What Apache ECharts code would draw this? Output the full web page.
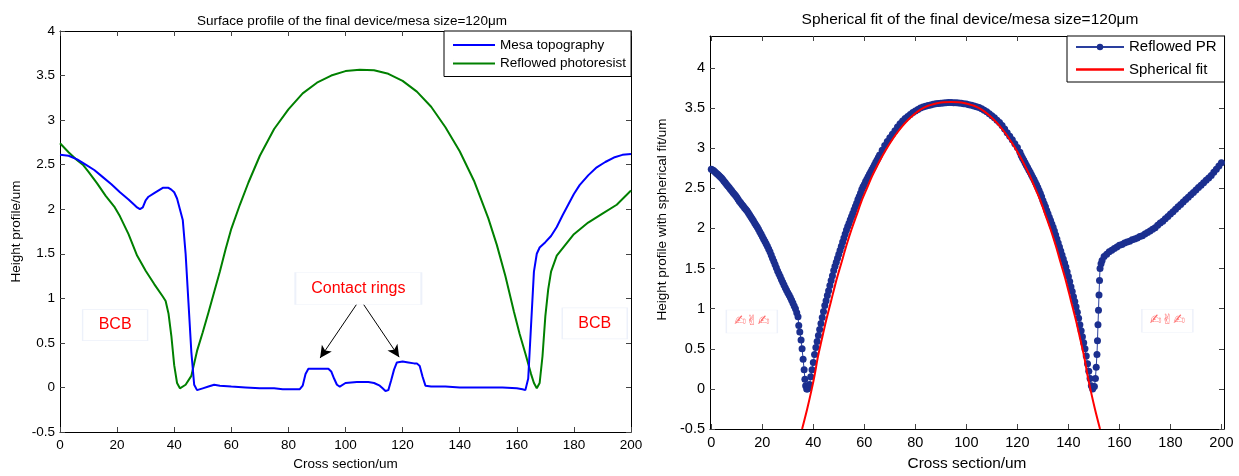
<!DOCTYPE html>
<html><head><meta charset="utf-8">
<script src="https://cdn.jsdelivr.net/npm/echarts@6/dist/echarts.min.js"></script>
<style>html,body{margin:0;padding:0;background:#fff}#c{width:1239px;height:476px}</style>
</head><body><div id="c"></div>
<script>
// ---------- tick labels ----------
const xTicks = [0,20,40,60,80,100,120,140,160,180,200];
const yTicks = [-0.5,0,0.5,1,1.5,2,2.5,3,3.5,4];

// ---------- Left chart: Surface profile ----------
const mesaX = [0,3,6,9,12,15,18,21,24,26,27,28,29,30,31,33,35,36,37,38,39,40,41,42,43,44,45,46,47,48,50,52,54,56,60,65,70,75,78,80,84,85,86,87,90,92,94,95,96,97,98,100,104,108,110,112,113,114,115,116,117,118,120,122,124,125,126,127,128,130,135,140,145,150,155,160,162,163,164,165,166,167,168,170,172,174,176,178,180,182,185,188,191,194,197,200];
const mesaY = [2.61,2.6,2.56,2.5,2.44,2.36,2.28,2.19,2.11,2.05,2.02,2.0,2.02,2.1,2.14,2.18,2.22,2.24,2.24,2.24,2.22,2.19,2.12,2.0,1.88,1.5,0.95,0.4,0.03,-0.03,-0.01,0.01,0.03,0.02,0.01,0.0,-0.01,-0.01,-0.02,-0.02,-0.02,0.02,0.15,0.21,0.21,0.21,0.21,0.18,0.1,0.03,0.01,0.05,0.06,0.06,0.05,0.02,-0.01,-0.04,-0.03,0.08,0.2,0.28,0.29,0.28,0.27,0.27,0.24,0.12,0.02,0.01,0.01,0.0,0.0,0.0,0.0,-0.01,-0.02,-0.03,0.1,0.7,1.3,1.5,1.57,1.63,1.7,1.8,1.93,2.05,2.17,2.27,2.38,2.47,2.53,2.58,2.61,2.62];
const prX = [0,3,6,8,10,13,16,19,21,24,27,30,33,36,37,38,39,40,41,42,44,46,48,50,52,54,56,58,60,63,66,70,75,80,85,90,95,100,105,110,115,120,125,130,135,140,145,150,153,156,159,161,163,165,166,167,168,169,170,171,172,174,177,180,185,190,195,200];
const prY = [2.74,2.64,2.55,2.5,2.42,2.29,2.15,2.03,1.92,1.72,1.48,1.31,1.16,1.02,0.97,0.83,0.58,0.25,0.05,-0.01,0.03,0.13,0.41,0.62,0.84,1.07,1.3,1.55,1.78,2.05,2.3,2.6,2.9,3.12,3.3,3.42,3.5,3.55,3.565,3.56,3.52,3.44,3.32,3.15,2.92,2.65,2.32,1.9,1.6,1.25,0.85,0.6,0.38,0.15,0.05,-0.01,0.05,0.35,0.8,1.1,1.3,1.48,1.6,1.72,1.85,1.95,2.05,2.21];

// ---------- Right chart: Spherical fit ----------
const dotX = [
 0,0.5,1,1.5,2,2.5,3,3.5,4,4.5,5,5.5,6,6.5,7,7.5,8,8.5,9,9.5,10,10.5,11,11.5,12,12.5,13,13.5,14,14.5,15,15.5,16,16.5,17,17.5,18,18.5,19,19.5,20,20.5,21,21.5,22,22.5,23,23.5,24,24.5,25,25.5,26,26.5,27,27.5,28,28.5,29,29.5,30,30.5,31,31.5,32,32.5,33,33.5,34,
 34.3,34.7,35.2,35.6,36.0,36.4,36.7,37.0,37.4,37.7,
 38,38.5,39,39.5,40,40.5,41,41.5,42,42.5,43,43.5,44,44.5,45,45.5,46,46.5,47,47.5,48,48.5,49,49.5,50,50.5,51,51.5,52,52.5,53,53.5,54,54.5,55,55.5,56,56.5,57,57.5,58,58.5,59,59.5,60,60.5,61,61.5,62,62.5,63,63.5,64,64.5,65,65.5,66,
 67,68,69,70,71,72,73,74,75,76,77,78,79,80,81,82,83,84,85,86,87,88,89,90,91,92,93,94,95,96,97,98,99,100,101,102,103,104,105,106,107,108,109,110,111,112,113,114,115,116,117,118,119,120,121,
 121.5,122,122.5,123,123.5,124,124.5,125,125.5,126,126.5,127,127.5,128,128.5,129,129.5,130,130.5,131,131.5,132,132.5,133,133.5,134,134.5,135,135.5,136,136.5,137,137.5,138,138.5,139,139.5,140,140.5,141,141.5,142,142.5,143,143.5,144,144.5,145,145.5,146,146.5,147,147.5,148,148.5,149,149.5,
 150.2,150.6,150.9,151.2,151.4,151.6,151.8,152.0,152.2,152.4,152.8,153.2,
 154,155,156,157,158,159,160,161,162,163,164,165,166,167,168,169,170,171,172,173,174,175,176,177,178,179,180,181,182,183,184,185,186,187,188,189,190,191,192,193,194,195,196,197,198,199,200];
const dotY = [
 2.74,2.73,2.72,2.705,2.69,2.675,2.66,2.645,2.63,2.61,2.59,2.57,2.55,2.53,2.51,2.49,2.47,2.45,2.43,2.41,2.39,2.365,2.34,2.32,2.3,2.28,2.26,2.24,2.22,2.195,2.17,2.145,2.12,2.095,2.07,2.045,2.02,1.99,1.96,1.93,1.9,1.87,1.84,1.81,1.78,1.745,1.71,1.67,1.63,1.59,1.55,1.51,1.47,1.435,1.4,1.365,1.33,1.295,1.26,1.23,1.2,1.17,1.14,1.105,1.07,1.035,1.0,0.95,0.9,
 0.79,0.71,0.61,0.5,0.37,0.24,0.12,0.04,0.0,0.0,
 0.01,0.055,0.15,0.24,0.33,0.43,0.515,0.59,0.665,0.74,0.815,0.89,0.965,1.04,1.1,1.165,1.225,1.29,1.35,1.41,1.475,1.53,1.58,1.63,1.68,1.73,1.78,1.83,1.88,1.93,1.98,2.025,2.065,2.11,2.15,2.19,2.235,2.275,2.315,2.36,2.4,2.44,2.485,2.52,2.55,2.585,2.615,2.645,2.675,2.705,2.735,2.765,2.795,2.825,2.855,2.885,2.915,
 2.975,3.035,3.085,3.13,3.175,3.22,3.265,3.305,3.34,3.37,3.395,3.42,3.445,3.465,3.485,3.503,3.514,3.524,3.533,3.541,3.548,3.554,3.559,3.563,3.566,3.568,3.57,3.57,3.569,3.567,3.565,3.561,3.556,3.551,3.544,3.537,3.528,3.518,3.508,3.493,3.475,3.455,3.43,3.405,3.38,3.35,3.32,3.285,3.24,3.195,3.15,3.105,3.055,3.01,2.95,
 2.91,2.88,2.85,2.82,2.79,2.76,2.73,2.7,2.67,2.64,2.61,2.575,2.545,2.51,2.475,2.435,2.395,2.35,2.31,2.27,2.225,2.185,2.14,2.1,2.055,2.015,1.97,1.92,1.87,1.82,1.77,1.72,1.67,1.62,1.57,1.52,1.46,1.4,1.34,1.275,1.215,1.15,1.09,1.025,0.955,0.88,0.8,0.725,0.65,0.575,0.5,0.41,0.315,0.22,0.13,0.04,0.0,
 0.03,0.13,0.27,0.43,0.6,0.8,0.98,1.17,1.35,1.5,1.56,1.6,
 1.65,1.68,1.71,1.73,1.75,1.77,1.79,1.8,1.82,1.83,1.84,1.86,1.87,1.88,1.9,1.91,1.93,1.95,1.97,1.99,2.01,2.04,2.07,2.09,2.12,2.15,2.18,2.21,2.24,2.27,2.3,2.33,2.36,2.39,2.42,2.45,2.48,2.51,2.54,2.57,2.6,2.63,2.66,2.7,2.74,2.78,2.82];
const fitX = [35.6,37.6,39.4,40.5,41.8,43.2,45,47,49,51,53,55,57,59,61,63,65,67,69,71,73,75,77,79,81,83,85,87,89,91,94,97,99,101,103,105,107,109,111,113,115,117,119,121,123,125,127,129,131,133,135,137,139,141,143,144.8,146.2,147.5,148.6,150.4,152.4];
const fitY = [-0.5,-0.25,0.0,0.17,0.4,0.6,0.85,1.1,1.35,1.57,1.79,1.99,2.17,2.35,2.5,2.65,2.78,2.9,3.01,3.11,3.2,3.28,3.35,3.41,3.46,3.5,3.53,3.55,3.565,3.573,3.578,3.573,3.565,3.55,3.53,3.5,3.46,3.41,3.35,3.28,3.2,3.11,3.01,2.9,2.78,2.65,2.5,2.35,2.17,1.99,1.79,1.57,1.35,1.1,0.85,0.6,0.4,0.17,0.0,-0.25,-0.5];

const zip = (a,b)=>a.map((v,i)=>[v,b[i]]);
const FONT = '"Liberation Sans", Arial, sans-serif';
const line = {show:true, onZero:false, lineStyle:{color:'#000', width:1}};
const tick = {inside:true, length:5, lineStyle:{color:'#444'}};

function mkX(grid, min, max, main, fs, nfs, nameGap){
  return {gridIndex:grid, type:'value', min, max, position: main?'bottom':'top',
    axisLine:line, axisTick:Object.assign({customValues:xTicks}, tick),
    axisLabel:{show:main, customValues:xTicks, margin:6, color:'#000', fontSize:fs, fontFamily:FONT},
    splitLine:{show:false}, name: main?'Cross section/um':'', nameLocation:'middle', nameGap,
    nameTextStyle:{color:'#000', fontSize:nfs, fontFamily:FONT}};
}
function mkY(grid, min, max, main, fs, name, nameGap, shift){
  return {gridIndex:grid, type:'value', min, max, position: main?'left':'right',
    axisLine:line, axisTick:Object.assign({customValues:yTicks}, tick),
    axisLabel:{show:main, customValues:yTicks, margin:5, color:'#000', fontSize:fs, fontFamily:FONT},
    splitLine:{show:false}, name: main?name:'', nameLocation:'middle', nameGap, nameRotate:90,
    nameTextStyle:{color:'#000', fontSize:13.5, fontFamily:FONT, padding:[0,0,0,shift||0]}};
}
function note(x,y,text,w,h,size,col,fam){
  return {coord:[x,y], symbol:'rect', symbolSize:[w,h],
    itemStyle:{color:'#fff', borderColor:'#edf1fa', borderWidth:1},
    label:{show:true, position:'inside', formatter:text, color:col, fontSize:size, fontFamily:fam||FONT}};
}
const lineIcon = (w,h,t)=>'path://M0,0h0.01v'+h+'h-0.01z M0,'+((h-t)/2)+'h'+w+'v'+t+'h-'+w+'z';
const glyphs = '✍\uFE0E✌\uFE0E✍\uFE0E';

const chart = echarts.init(document.getElementById('c'), null, {renderer:'canvas'});
chart.setOption({
  animation:false,
  backgroundColor:'#fff',
  title:[
    {text:'Surface profile of the final device/mesa size=120μm', left:347, top:9, textAlign:'center',
     textStyle:{fontSize:13.5, fontWeight:'normal', color:'#000', fontFamily:FONT}},
    {text:'Spherical fit of the final device/mesa size=120μm', left:965, top:7, textAlign:'center',
     textStyle:{fontSize:15.5, fontWeight:'normal', color:'#000', fontFamily:FONT}}
  ],
  grid:[
    {left:60, right:608, top:31, bottom:43},
    {left:710, right:15, top:36, bottom:43}
  ],
  legend:[
    {data:[{name:'Mesa topography', icon:lineIcon(42,10,2)},{name:'Reflowed photoresist', icon:lineIcon(42,10,2)}],
     orient:'vertical', left:444, top:31, itemWidth:42, itemHeight:10, itemGap:4.5, padding:[7,5,6,9],
     borderColor:'#000', borderWidth:1, backgroundColor:'#fff',
     textStyle:{fontSize:13.5, color:'#000', fontFamily:FONT}},
    {data:[{name:'Reflowed PR'},{name:'Spherical fit', icon:lineIcon(48,8,2.5)}],
     orient:'vertical', left:1067, top:36, itemWidth:48, itemHeight:8, itemGap:7.5, padding:[3.5,8,5,8],
     borderColor:'#000', borderWidth:1, backgroundColor:'#fff',
     textStyle:{fontSize:15, color:'#000', fontFamily:FONT}}
  ],
  xAxis:[
    mkX(0,0,200,true,13.5,13.5,25), mkX(0,0,200,false,13.5,13.5,0),
    mkX(1,-0.5,201,true,14.5,15.4,27), mkX(1,-0.5,201,false,14.5,15.4,0)
  ],
  yAxis:[
    mkY(0,-0.5,4,true,13.5,'Height profile/um',37,0), mkY(0,-0.5,4,false,13.5,'',0,0),
    mkY(1,-0.5,4.4,true,14.5,'Height profile with spherical fit/um',41,26), mkY(1,-0.5,4.4,false,14.5,'',0,0)
  ],
  series:[
    {name:'Mesa topography', type:'line', xAxisIndex:0, yAxisIndex:0, data:zip(mesaX,mesaY),
     showSymbol:false, symbol:'none', lineStyle:{color:'#0000ff', width:2}, itemStyle:{color:'#0000ff'}, z:3,
     markPoint:{silent:true, data:[
       note(19.3,0.70,'BCB',65,31,16,'#ff0000'),
       note(187.3,0.72,'BCB',65,31,16,'#ff0000'),
       note(104.5,1.11,'Contact rings',126,32,16,'#ff0000')]},
     markLine:{silent:true, symbol:['none','arrow'], symbolSize:[9,12], label:{show:false},
       lineStyle:{color:'#000', width:1, type:'solid'},
       data:[[{coord:[105.1,0.99]},{coord:[91.1,0.33]}],[{coord:[105.1,0.99]},{coord:[118.8,0.34]}]]}},
    {name:'Reflowed photoresist', type:'line', xAxisIndex:0, yAxisIndex:0, data:zip(prX,prY),
     showSymbol:false, symbol:'none', lineStyle:{color:'#008000', width:2}, itemStyle:{color:'#008000'}, z:2},
    {name:'Reflowed PR', type:'line', xAxisIndex:2, yAxisIndex:2, data:zip(dotX,dotY),
     symbol:'circle', symbolSize:7, showAllSymbol:true, lineStyle:{color:'#2a3f9e', width:1},
     itemStyle:{color:'#1b2f8f'}, z:2,
     markPoint:{silent:true, data:[
       note(15.9,0.84,glyphs,51,23,14,'#ff6a6a','"DejaVu Sans"'),
       note(178.8,0.85,glyphs,51,23,14,'#ff6a6a','"DejaVu Sans"')]}},
    {name:'Spherical fit', type:'line', xAxisIndex:2, yAxisIndex:2, data:zip(fitX,fitY),
     showSymbol:false, symbol:'none', smooth:0.3, lineStyle:{color:'#ff0000', width:2}, itemStyle:{color:'#ff0000'}, z:3}
  ]
});
</script></body></html>
